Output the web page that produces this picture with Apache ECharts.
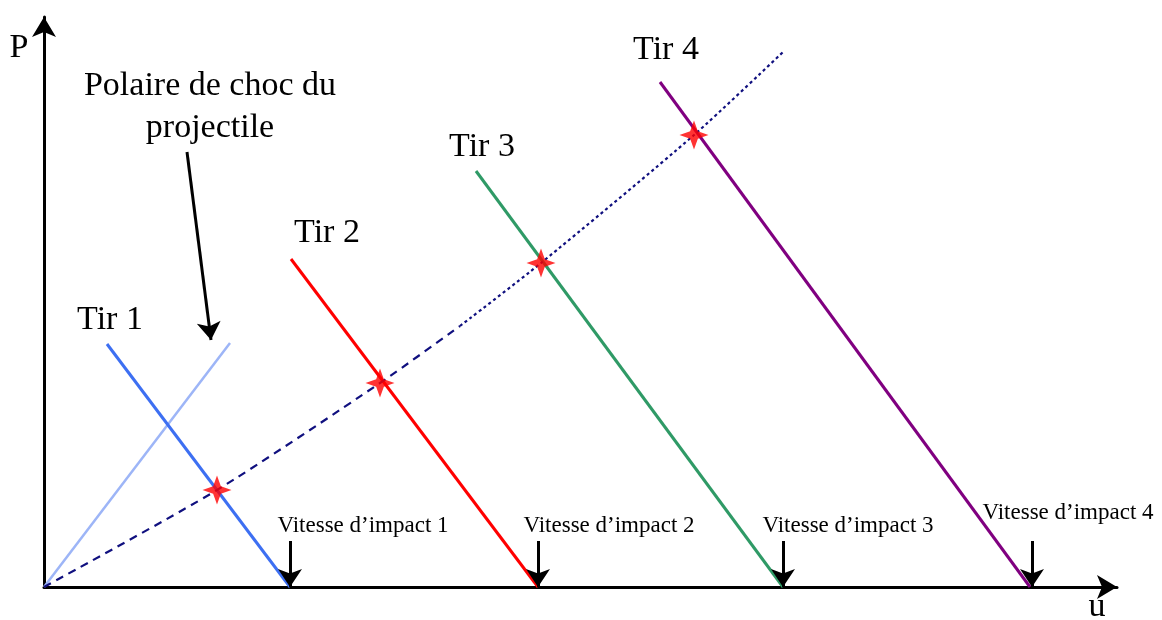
<!DOCTYPE html>
<html>
<head>
<meta charset="utf-8">
<title>Polaire de choc</title>
<script src="https://cdn.jsdelivr.net/npm/echarts@6/dist/echarts.min.js"></script>
<style>
  html, body { margin: 0; padding: 0; background: #fff; }
  #chart { width: 1162px; height: 620px; }
</style>
</head>
<body>
<div id="chart"></div>
<script>
// points are [u, P]
const tir1 = [[63, 243], [246, 0]];
const tir2 = [[247, 328], [494, 0]];
const tir3 = [[432, 416], [739, 0]];
const tir4 = [[616, 505], [986, 0]];
const polaireProjectile = [[0, 0], [186, 244]];
// polaire de la cible : partie tiretee puis pointillee
const polaireBas = [[0, 0], [173, 97], [336, 204], [416, 261]];
const polaireHaut = [[416, 261], [497, 324], [650, 452], [739, 535]];
const impacts = [[173, 97], [336, 204], [497, 324], [650, 452]];
const vitesses = [246, 494, 739, 988];
const hauteurFleche = 46;
const flecheLegende = [[143, 435], [167, 247]];

const serif = "'Liberation Serif', 'DejaVu Serif', serif";

const star = "path://M0,-12 L3.2,-3.2 L12,0 L3.2,3.2 L0,12 L-3.2,3.2 L-12,0 L-3.2,-3.2 Z";

function droite(data, color, width) {
  return {
    type: "line",
    data: data,
    symbol: "none",
    silent: true,
    lineStyle: { color: color, width: width }
  };
}

function texte(x, y, t, size) {
  return {
    type: "text",
    x: x,
    y: y,
    style: { text: t, font: size + "px " + serif, fill: "#000", align: "center", verticalAlign: "middle" }
  };
}

let myChart = echarts.init(document.getElementById("chart"));

let option = {
  animation: false,
  grid: { left: 44, right: 45, top: 17, bottom: 33 },
  xAxis: {
    type: "value",
    min: 0,
    max: 1073,
    axisLine: {
      show: true,
      onZero: false,
      symbol: ["none", "arrow"],
      symbolSize: [18, 20],
      lineStyle: { color: "#000", width: 3 }
    },
    axisTick: { show: false },
    axisLabel: { show: false },
    splitLine: { show: false }
  },
  yAxis: {
    type: "value",
    min: 0,
    max: 570,
    axisLine: {
      show: true,
      onZero: false,
      symbol: ["none", "arrow"],
      symbolSize: [18, 20],
      lineStyle: { color: "#000", width: 3 }
    },
    axisTick: { show: false },
    axisLabel: { show: false },
    splitLine: { show: false }
  },
  series: [
    droite(polaireProjectile, "#9db5f7", 2.5),
    droite(tir1, "#3d6ff2", 3),
    droite(tir2, "#ff0000", 3),
    droite(tir3, "#2f9a66", 3),
    droite(tir4, "#800080", 3),
    {
      type: "line",
      data: polaireBas,
      smooth: 0.25,
      symbol: "none",
      lineStyle: { color: "#10107f", width: 2.2, type: [8, 6] }
    },
    {
      type: "line",
      data: polaireHaut,
      smooth: 0.25,
      symbol: "none",
      lineStyle: { color: "#10107f", width: 2.2, type: [3, 3] }
    },
    {
      type: "scatter",
      data: impacts,
      symbol: star,
      symbolSize: 29,
      itemStyle: { color: "#ff0000" },
      z: 5
    },
    {
      type: "lines",
      coordinateSystem: "cartesian2d",
      symbol: ["none", "arrow"],
      symbolSize: [18, 18],
      lineStyle: { color: "#000", width: 3, opacity: 1 },
      data: vitesses
        .map(v => ({ coords: [[v, hauteurFleche], [v, 0]] }))
        .concat([{ coords: flecheLegende }]),
      z: 6
    }
  ],
  graphic: [
    texte(19, 48, "P", 34),
    texte(1097, 607, "u", 34),
    texte(210, 86, "Polaire de choc du", 34),
    texte(210, 128, "projectile", 34),
    texte(110, 320, "Tir 1", 34),
    texte(327, 233, "Tir 2", 34),
    texte(482, 147, "Tir 3", 34),
    texte(666, 50, "Tir 4", 34),
    texte(363, 526, "Vitesse d\u2019impact 1", 23),
    texte(609, 526, "Vitesse d\u2019impact 2", 23),
    texte(848, 526, "Vitesse d\u2019impact 3", 23),
    texte(1068, 513, "Vitesse d\u2019impact 4", 23)
  ]
};

myChart.setOption(option);
</script>
</body>
</html>
